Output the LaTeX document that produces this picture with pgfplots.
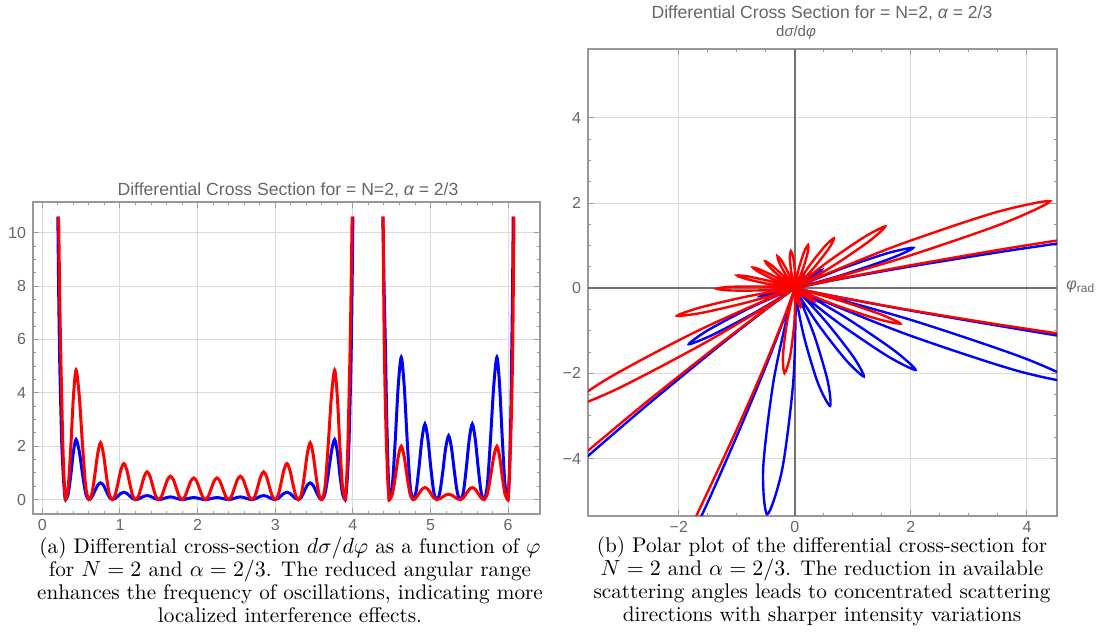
\documentclass[border=0pt]{standalone}
\usepackage{fontspec}
\usepackage{pgfplots}
\usepackage{pgfplotstable}
\pgfplotsset{compat=1.18}
\newfontfamily\mma{Liberation Sans}
\definecolor{framegray}{gray}{0.6}
\definecolor{labelgray}{gray}{0.4}
\definecolor{gridgray}{gray}{0.86}
\definecolor{axisgray}{gray}{0.45}

\pgfplotstableread{
phi r
0.210 10.6
0.225 7.5
0.237 5.5
0.250 3.8
0.265 2.0
0.280 0.8
0.292 0.2
0.300 0
0.334 0.485
0.368 2.037
0.401 3.88
0.435 4.85
0.476 3.88
0.518 2.037
0.559 0.485
0.600 0
0.6375 0.213
0.675 0.895
0.7125 1.704
0.75 2.13
0.7875 1.704
0.825 0.895
0.8625 0.213
0.9 0
0.9375 0.162
0.975 0.621
1.0125 1.12
1.05 1.35
1.0875 1.12
1.125 0.621
1.1625 0.162
1.2 0
1.2375 0.125
1.275 0.478
1.3125 0.863
1.35 1.04
1.3875 0.863
1.425 0.478
1.4625 0.125
1.5 0
1.5375 0.128
1.575 0.438
1.6125 0.747
1.65 0.875
1.6875 0.747
1.725 0.438
1.7625 0.128
1.8 0
1.8375 0.118
1.875 0.405
1.9125 0.692
1.95 0.81
1.9875 0.692
2.025 0.405
2.0625 0.118
2.1 0
2.1375 0.118
2.175 0.405
2.2125 0.692
2.25 0.81
2.2875 0.692
2.325 0.405
2.3625 0.118
2.4 0
2.4375 0.128
2.475 0.438
2.5125 0.747
2.55 0.875
2.5875 0.747
2.625 0.438
2.6625 0.128
2.7 0
2.7375 0.125
2.775 0.478
2.8125 0.863
2.85 1.04
2.8875 0.863
2.925 0.478
2.9625 0.125
3.0 0
3.0375 0.162
3.075 0.621
3.1125 1.12
3.15 1.35
3.1875 1.12
3.225 0.621
3.2625 0.162
3.3 0
3.3375 0.213
3.375 0.895
3.4125 1.704
3.45 2.13
3.4875 1.704
3.525 0.895
3.5625 0.213
3.6 0
3.641 0.485
3.682 2.037
3.724 3.88
3.765 4.85
3.799 3.88
3.832 2.037
3.866 0.485
3.9 0
3.908 0.2
3.920 0.8
3.935 2.0
3.950 3.8
3.963 5.5
3.975 7.5
3.990 10.6
}\redA

\pgfplotstableread{
phi r
4.390 10.6
4.398 7.5
4.405 5.6
4.418 3.6
4.433 2.0
4.448 0.8
4.460 0.2
4.470 0
4.508 0.2
4.546 0.84
4.584 1.6
4.623 2.0
4.661 1.6
4.699 0.84
4.737 0.2
4.775 0
4.813 0.066
4.851 0.225
4.889 0.384
4.928 0.45
4.966 0.384
5.004 0.225
5.042 0.066
5.080 0
5.118 0.029
5.156 0.1
5.194 0.171
5.233 0.2
5.271 0.171
5.309 0.1
5.347 0.029
5.385 0
5.423 0.066
5.461 0.225
5.499 0.384
5.538 0.45
5.576 0.384
5.614 0.225
5.652 0.066
5.690 0
5.731 0.2
5.772 0.84
5.814 1.6
5.855 2.0
5.890 1.6
5.925 0.84
5.960 0.2
5.995 0
6.003 0.2
6.015 0.8
6.030 2.0
6.045 3.6
6.058 5.6
6.065 7.5
6.075 10.6
}\redB

\pgfplotstableread{
phi r
0.200 10.6
0.212 7.5
0.222 5.5
0.235 3.8
0.252 2.0
0.272 0.8
0.288 0.2
0.300 0
0.334 0.225
0.368 0.945
0.401 1.80
0.435 2.25
0.476 1.80
0.518 0.945
0.559 0.225
0.600 0
0.6375 0.091
0.675 0.313
0.7125 0.534
0.75 0.625
0.7875 0.534
0.825 0.313
0.8625 0.091
0.9 0
0.9375 0.040
0.975 0.138
1.0125 0.235
1.05 0.275
1.0875 0.235
1.125 0.138
1.1625 0.040
1.2 0
1.2375 0.022
1.275 0.075
1.3125 0.128
1.35 0.15
1.3875 0.128
1.425 0.075
1.4625 0.022
1.5 0
1.5375 0.015
1.575 0.05
1.6125 0.085
1.65 0.10
1.6875 0.085
1.725 0.05
1.7625 0.015
1.8 0
1.8375 0.011
1.875 0.038
1.9125 0.064
1.95 0.075
1.9875 0.064
2.025 0.038
2.0625 0.011
2.1 0
2.1375 0.011
2.175 0.038
2.2125 0.064
2.25 0.075
2.2875 0.064
2.325 0.038
2.3625 0.011
2.4 0
2.4375 0.015
2.475 0.05
2.5125 0.085
2.55 0.10
2.5875 0.085
2.625 0.05
2.6625 0.015
2.7 0
2.7375 0.022
2.775 0.075
2.8125 0.128
2.85 0.15
2.8875 0.128
2.925 0.075
2.9625 0.022
3.0 0
3.0375 0.040
3.075 0.138
3.1125 0.235
3.15 0.275
3.1875 0.235
3.225 0.138
3.2625 0.040
3.3 0
3.3375 0.091
3.375 0.313
3.4125 0.534
3.45 0.625
3.4875 0.534
3.525 0.313
3.5625 0.091
3.6 0
3.641 0.225
3.682 0.945
3.724 1.80
3.765 2.25
3.799 1.80
3.832 0.945
3.866 0.225
3.9 0
3.912 0.2
3.928 0.8
3.948 2.0
3.965 3.8
3.978 5.5
3.988 7.5
4.000 10.6
}\blueA

\pgfplotstableread{
phi r
4.385 10.6
4.405 7.5
4.420 5.6
4.432 3.6
4.445 2.0
4.457 0.8
4.465 0.2
4.470 0
4.508 0.533
4.546 2.239
4.584 4.264
4.623 5.33
4.661 4.264
4.699 2.239
4.737 0.533
4.775 0
4.813 0.283
4.851 1.189
4.889 2.264
4.928 2.83
4.966 2.264
5.004 1.189
5.042 0.283
5.080 0
5.118 0.239
5.156 1.004
5.194 1.912
5.233 2.39
5.271 1.912
5.309 1.004
5.347 0.239
5.385 0
5.423 0.283
5.461 1.189
5.499 2.264
5.538 2.83
5.576 2.264
5.614 1.189
5.652 0.283
5.690 0
5.731 0.533
5.772 2.239
5.814 4.264
5.855 5.33
5.890 4.264
5.925 2.239
5.960 0.533
5.995 0
6.003 0.2
6.013 0.8
6.025 2.0
6.037 3.6
6.046 5.6
6.055 7.5
6.065 10.6
}\blueB

\pgfplotsset{
  mmaframe/.style={
    scale only axis,
    axis line style={framegray, line width=0.6pt},
    tick style={framegray, line width=0.5pt},
    major tick length=3pt,
    minor tick length=1.7pt,
    grid=major,
    grid style={gridgray, line width=0.5pt},
    tick label style={font=\fontsize{8}{9}\mma, text=labelgray},
    /pgf/number format/assume math mode=true,
  },
}

\begin{document}
\begin{tikzpicture}
\path[use as bounding box] (0,0) rectangle (549.5pt,318.5pt);

% ---------- left plot ----------
\begin{axis}[mmaframe,
  at={(16.5pt,61.5pt)}, anchor=south west,
  width=253.5pt, height=156pt,
  xmin=-0.12, xmax=6.41, ymin=-0.54, ymax=11.15,
  xtick={0,1,2,3,4,5,6}, ytick={0,2,4,6,8,10},
  minor x tick num=4, minor y tick num=3,
  xticklabel style={yshift=1pt},
]
\addplot[blue, line width=1.5pt, smooth, no markers] table[x=phi,y=r]{\blueA};
\addplot[blue, line width=1.5pt, smooth, no markers] table[x=phi,y=r]{\blueB};
\addplot[red, line width=1.5pt, smooth, no markers] table[x=phi,y=r]{\redA};
\addplot[red, line width=1.5pt, smooth, no markers] table[x=phi,y=r]{\redB};
\end{axis}

% ---------- right (polar) plot ----------
\begin{axis}[mmaframe,
  at={(294pt,60.5pt)}, anchor=south west,
  width=234.5pt, height=233.5pt,
  xmin=-3.565, xmax=4.518, ymin=-5.35, ymax=5.62,
  xtick={-2,0,2,4}, xticklabels={−2,0,2,4},
  ytick={-4,-2,0,2,4}, yticklabels={−4,−2,0,2,4},
  minor x tick num=3, minor y tick num=3,
  xticklabel style={yshift=1pt},
  extra x ticks={0}, extra y ticks={0},
  extra x tick labels={}, extra y tick labels={},
  extra tick style={grid style={axisgray, line width=0.8pt}, major tick length=0pt},
]
\addplot[blue, line width=1.2pt, smooth, no markers, data cs=polarrad] table[x=phi,y=r]{\blueA};
\addplot[blue, line width=1.2pt, smooth, no markers, data cs=polarrad] table[x=phi,y=r]{\blueB};
\addplot[red, line width=1.2pt, smooth, no markers, data cs=polarrad] table[x=phi,y=r]{\redA};
\addplot[red, line width=1.2pt, smooth, no markers, data cs=polarrad] table[x=phi,y=r]{\redB};
\end{axis}

% titles and labels
\node[text=labelgray, font=\fontsize{8.8}{10}\mma, inner sep=0pt] at (144pt,223.5pt)
  {Differential Cross Section for = N=2, {\itshape α} = 2/3};
\node[text=labelgray, font=\fontsize{8.8}{10}\mma, inner sep=0pt] at (411pt,312pt)
  {Differential Cross Section for = N=2, {\itshape α} = 2/3};
\node[text=labelgray, font=\fontsize{7.5}{9}\mma, inner sep=0pt] at (398pt,302pt)
  {d{\itshape σ}/d{\itshape φ}};
\node[text=labelgray, font=\fontsize{8}{9}\mma, inner sep=0pt, anchor=west] at (533pt,175pt)
  {{\itshape φ}\raisebox{-1.6pt}{\fontsize{6}{7}\selectfont rad}};

% captions
\node[anchor=north, align=center, inner sep=0pt, font=\fontsize{10.6}{11.5}\selectfont] at (145pt,50.3pt)
  {(a) Differential cross-section $d\sigma/d\varphi$ as a function of $\varphi$\\
   for $N=2$ and $\alpha=2/3$. The reduced angular range\\
   enhances the frequency of oscillations, indicating more\\
   localized interference effects.};
\node[anchor=north, align=center, inner sep=0pt, font=\fontsize{10.6}{11.5}\selectfont] at (411pt,50.3pt)
  {(b) Polar plot of the differential cross-section for\\
   $N=2$ and $\alpha=2/3$. The reduction in available\\
   scattering angles leads to concentrated scattering\\
   directions with sharper intensity variations};
\end{tikzpicture}
\end{document}
